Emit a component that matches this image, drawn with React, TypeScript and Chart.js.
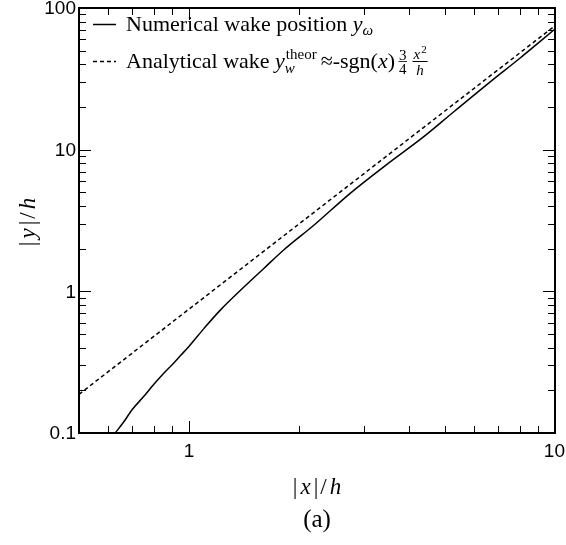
import { useEffect, useRef } from "react";
import { Chart, registerables } from "chart.js";

Chart.register(...registerables);

// Numerical wake position
const numericalX = [0.628, 0.66, 0.7, 0.75, 0.8, 0.85, 0.9, 0.95, 1.0, 1.1, 1.215, 1.4, 1.6, 1.81, 2.2, 2.75, 3.5, 4.37, 5.3, 6.64, 8.0, 10.0];
const numericalY = [0.1, 0.118, 0.147, 0.18, 0.22, 0.262, 0.305, 0.355, 0.41, 0.55, 0.734, 1.05, 1.45, 1.95, 2.95, 4.9, 8.0, 12.3, 18.6, 30, 44, 71];

// Analytical wake 3/4 x^2
const analyticalX = [0.5, 1, 2, 5, 10];
const analyticalY = [0.1875, 0.75, 3, 18.75, 75];

const xMajorTicks = [1, 10];
const xMinorTicks = [0.6, 0.7, 0.8, 0.9, 2, 3, 4, 5, 6, 7, 8, 9];
const yMajorTicks = [0.1, 1, 10, 100];
const yMinorTicks = [0.2, 0.3, 0.4, 0.5, 0.6, 0.7, 0.8, 0.9, 2, 3, 4, 5, 6, 7, 8, 9, 20, 30, 40, 50, 60, 70, 80, 90];
const xTickValues = [1, 10];
const xTickLabels = ["1", "10"];
const yTickValues = [0.1, 1, 10, 100];
const yTickLabels = ["0.1", "1", "10", "100"];

const SERIF = '"Liberation Serif"';
const SANS = '"Liberation Sans"';

type Seg = { t: string; f: string; dy?: number; gap?: number };

function drawRich(ctx: CanvasRenderingContext2D, x: number, base: number, segs: Seg[]) {
  let cx = x;
  for (const s of segs) {
    ctx.font = s.f;
    cx += s.gap || 0;
    ctx.fillText(s.t, cx, base + (s.dy || 0));
    cx += ctx.measureText(s.t).width;
  }
  return cx;
}

const framePlugin = {
  id: "framePlugin",
  afterDraw(chart: any) {
    const ctx: CanvasRenderingContext2D = chart.ctx;
    const { left, right, top, bottom } = chart.chartArea;
    const xs = chart.scales.x;
    const ys = chart.scales.y;
    ctx.save();
    ctx.fillStyle = "#000";
    ctx.strokeStyle = "#000";

    // ticks
    ctx.lineWidth = 1;
    const tick = (x1: number, y1: number, x2: number, y2: number) => {
      ctx.beginPath();
      ctx.moveTo(x1, y1);
      ctx.lineTo(x2, y2);
      ctx.stroke();
    };
    const MAJ = 12, MIN = 7;
    xMajorTicks.forEach((v) => {
      const p = Math.round(xs.getPixelForValue(v)) + 0.5;
      tick(p, bottom, p, bottom - MAJ);
      tick(p, top, p, top + MAJ);
    });
    xMinorTicks.forEach((v) => {
      const p = Math.round(xs.getPixelForValue(v)) + 0.5;
      tick(p, bottom, p, bottom - MIN);
      tick(p, top, p, top + MIN);
    });
    yMajorTicks.forEach((v) => {
      const p = Math.round(ys.getPixelForValue(v)) + 0.5;
      tick(left, p, left + MAJ, p);
      tick(right, p, right - MAJ, p);
    });
    yMinorTicks.forEach((v) => {
      const p = Math.round(ys.getPixelForValue(v)) + 0.5;
      tick(left, p, left + MIN, p);
      tick(right, p, right - MIN, p);
    });

    // frame
    ctx.lineWidth = 2;
    ctx.strokeRect(left, top, right - left, bottom - top);

    // tick labels
    ctx.font = `19px ${SANS}`;
    ctx.textAlign = "right";
    ctx.textBaseline = "middle";
    yTickValues.forEach((v, i) => {
      ctx.fillText(yTickLabels[i], left - 3, ys.getPixelForValue(v) + 1);
    });
    ctx.textBaseline = "top";
    xTickValues.forEach((v, i) => {
      const p = xs.getPixelForValue(v);
      const w = ctx.measureText(xTickLabels[i]).width;
      const r = Math.min(p + w / 2, chart.width - 1);
      ctx.textAlign = "right";
      ctx.fillText(xTickLabels[i], r, bottom + 9);
    });

    // axis titles
    ctx.textAlign = "left";
    ctx.textBaseline = "alphabetic";
    const titleSegs = (v: string): Seg[] => [
      { t: "|", f: `23px ${SERIF}` },
      { t: v, f: `italic 23px ${SERIF}`, gap: 3 },
      { t: "|", f: `23px ${SERIF}`, gap: 3 },
      { t: "/", f: `23px ${SERIF}`, gap: 2 },
      { t: "h", f: `italic 23px ${SERIF}`, gap: 3 },
    ];
    const measure = (segs: Seg[]) => {
      let w = 0;
      segs.forEach((s) => { ctx.font = s.f; w += ctx.measureText(s.t).width + (s.gap || 0); });
      return w;
    };
    const cxMid = (left + right) / 2;
    const xt = titleSegs("x");
    drawRich(ctx, cxMid - measure(xt) / 2, 494, xt);

    const yt = titleSegs("y");
    ctx.save();
    ctx.translate(35, 222);
    ctx.rotate(-Math.PI / 2);
    drawRich(ctx, -measure(yt) / 2, 0, yt);
    ctx.restore();

    // caption
    ctx.font = `25px ${SERIF}`;
    ctx.textAlign = "center";
    ctx.fillText("(a)", cxMid, 527);

    // legend
    ctx.textAlign = "left";
    ctx.lineWidth = 1.5;
    ctx.beginPath();
    ctx.moveTo(93, 24.5);
    ctx.lineTo(116, 24.5);
    ctx.stroke();
    ctx.setLineDash([4, 3]);
    ctx.beginPath();
    ctx.moveTo(93, 61.5);
    ctx.lineTo(116, 61.5);
    ctx.stroke();
    ctx.setLineDash([]);

    drawRich(ctx, 126, 31, [
      { t: "Numerical wake position ", f: `22px ${SERIF}` },
      { t: "y", f: `italic 22px ${SERIF}` },
      { t: "ω", f: `italic 15px ${SERIF}`, dy: 4 },
    ]);

    const b2 = 68;
    let cx = drawRich(ctx, 126, b2, [
      { t: "Analytical wake ", f: `22px ${SERIF}` },
      { t: "y", f: `italic 22px ${SERIF}` },
    ]);
    ctx.font = `italic 15px ${SERIF}`;
    ctx.fillText("w", cx, b2 + 5);
    const ww = ctx.measureText("w").width;
    ctx.font = `15px ${SERIF}`;
    ctx.fillText("theor", cx + 1, b2 - 9);
    const tw = ctx.measureText("theor").width + 1;
    cx += Math.max(ww, tw) + 4;
    cx = drawRich(ctx, cx, b2, [
      { t: "≈", f: `22px ${SERIF}` },
      { t: "-sgn(", f: `22px ${SERIF}` },
      { t: "x", f: `italic 22px ${SERIF}` },
      { t: ")", f: `22px ${SERIF}` },
    ]);
    // fraction 3/4
    cx += 4;
    ctx.font = `15px ${SERIF}`;
    const w3 = ctx.measureText("3").width;
    const barY = b2 - 6.5;
    ctx.fillText("3", cx, barY - 2);
    ctx.fillText("4", cx, barY + 12);
    ctx.lineWidth = 0.8;
    ctx.beginPath();
    ctx.moveTo(cx - 0.5, barY);
    ctx.lineTo(cx + w3 + 0.5, barY);
    ctx.stroke();
    cx += w3 + 6;
    // fraction x^2/h
    ctx.font = `italic 15px ${SERIF}`;
    const wx = ctx.measureText("x").width;
    ctx.font = `11px ${SERIF}`;
    const w2 = ctx.measureText("2").width;
    const numW = wx + w2 + 1;
    ctx.font = `italic 15px ${SERIF}`;
    ctx.fillText("x", cx + 1, barY - 3);
    ctx.font = `11px ${SERIF}`;
    ctx.fillText("2", cx + 1 + wx + 1, barY - 9);
    ctx.font = `italic 15px ${SERIF}`;
    const wh = ctx.measureText("h").width;
    ctx.fillText("h", cx + 1 + (numW - wh) / 2, barY + 13);
    ctx.lineWidth = 1;
    ctx.beginPath();
    ctx.moveTo(cx, barY);
    ctx.lineTo(cx + numW + 2, barY);
    ctx.stroke();

    ctx.restore();
  },
};

export default function App() {
  const ref = useRef<HTMLCanvasElement | null>(null);
  useEffect(() => {
    if (!ref.current) return;
    const chart = new Chart(ref.current, {
      type: "line",
      data: {
        datasets: [
          {
            label: "Numerical wake position",
            data: numericalX.map((x, i) => ({ x, y: numericalY[i] })),
            borderColor: "#000",
            borderWidth: 1.5,
            pointRadius: 0,
            cubicInterpolationMode: "monotone",
            fill: false,
          },
          {
            label: "Analytical wake",
            data: analyticalX.map((x, i) => ({ x, y: analyticalY[i] })),
            borderColor: "#000",
            borderWidth: 1.5,
            borderDash: [4, 3],
            pointRadius: 0,
            tension: 0,
            fill: false,
          },
        ],
      },
      options: {
        animation: false,
        responsive: false,
        maintainAspectRatio: false,
        layout: { padding: { left: 79, right: 11, top: 8, bottom: 112 } },
        plugins: { legend: { display: false }, tooltip: { enabled: false } },
        scales: {
          x: { type: "logarithmic", min: 0.5, max: 10, display: false },
          y: { type: "logarithmic", min: 0.1, max: 100, display: false },
        },
      },
      plugins: [framePlugin],
    });
    return () => chart.destroy();
  }, []);
  return (
    <div style={{ position: "fixed", left: 0, top: 0, width: 566, height: 545, background: "#fff" }}>
      <canvas ref={ref} width={566} height={545} style={{ display: "block" }} />
    </div>
  );
}
